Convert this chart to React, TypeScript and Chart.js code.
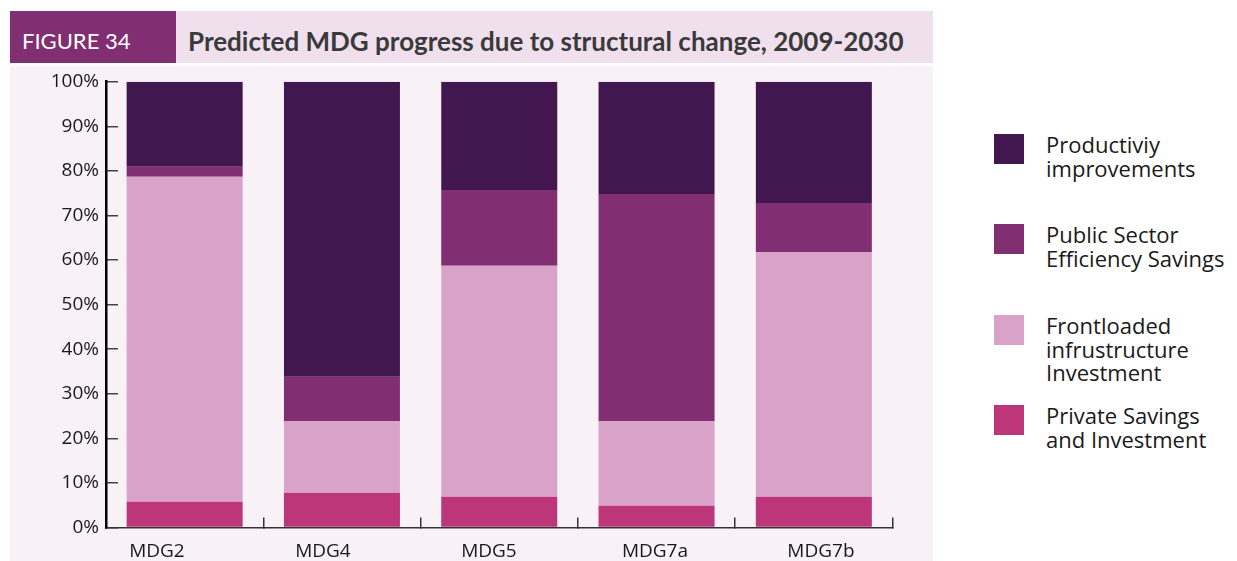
import React, { useEffect, useRef } from "react";
import { Chart, registerables } from "chart.js";

Chart.register(...registerables);

// ---- data ----
const categories = ["MDG2", "MDG4", "MDG5", "MDG7a", "MDG7b"];
const privateSavings = [5.8, 7.8, 6.9, 4.9, 6.9];
const frontloaded = [72.9, 16.1, 51.8, 19.0, 54.9];
const publicSector = [2.2, 9.9, 17.0, 50.9, 11.0];
const productivity = [19.1, 66.2, 24.3, 25.2, 27.2];
const yTickValues = [0, 10, 20, 30, 40, 50, 60, 70, 80, 90, 100];

const productivityLabel = ["Productiviy", "improvements"];
const publicLabel = ["Public Sector", "Efficiency Savings"];
const frontloadedLabel = ["Frontloaded", "infrustructure", "Investment"];
const privateLabel = ["Private Savings", "and Investment"];

const figureLabel = "FIGURE 34";
const titleText = "Predicted MDG progress due to structural change, 2009-2030";

// ---- styles ----
const COLORS = {
  productivity: "#42164f",
  publicSector: "#812f72",
  frontloaded: "#d9a2c8",
  privateSavings: "#bd3679",
};
const AXIS_FONT = "'Open Sans', sans-serif";
const X_LABEL_MIN = -0.307;
const X_LABEL_MAX = 4.431;

const legendItems = [
  { lines: productivityLabel, color: COLORS.productivity },
  { lines: publicLabel, color: COLORS.publicSector },
  { lines: frontloadedLabel, color: COLORS.frontloaded },
  { lines: privateLabel, color: COLORS.privateSavings },
];

export default function App() {
  const canvasRef = useRef<HTMLCanvasElement | null>(null);

  useEffect(() => {
    if (!canvasRef.current) return;
    const chart = new Chart(canvasRef.current, {
      type: "bar",
      data: {
        labels: categories,
        datasets: [
          { label: privateLabel.join(" "), data: privateSavings, backgroundColor: COLORS.privateSavings },
          { label: frontloadedLabel.join(" "), data: frontloaded, backgroundColor: COLORS.frontloaded },
          { label: publicLabel.join(" "), data: publicSector, backgroundColor: COLORS.publicSector },
          { label: productivityLabel.join(" "), data: productivity, backgroundColor: COLORS.productivity },
        ].map((d) => ({ ...d, borderWidth: 0, categoryPercentage: 1, barPercentage: 0.7375 })),
      },
      options: {
        responsive: false,
        animation: false,
        layout: { padding: { top: 15.7, right: 40.5, left: 0, bottom: 0 } },
        plugins: { legend: { display: false }, tooltip: { enabled: false } },
        scales: {
          x: {
            type: "category",
            stacked: true,
            offset: true,
            position: "bottom",
            weight: 0,
            grid: {
              display: true,
              drawOnChartArea: false,
              offset: true,
              tickLength: -10,
              color: "#333",
              lineWidth: 1.5,
            },
            border: { display: true, color: "#333", width: 1.5 },
            ticks: { display: false },
            afterFit: (s: any) => {
              s.height = 0;
              s.paddingLeft = 0;
              s.paddingRight = 0;
            },
          },
          x2: {
            type: "linear",
            position: "bottom",
            weight: 1,
            offset: false,
            bounds: "data",
            min: X_LABEL_MIN,
            max: X_LABEL_MAX,
            grid: { display: false, drawTicks: false, offset: false },
            border: { display: false },
            ticks: {
              autoSkip: false,
              maxRotation: 0,
              padding: 13,
              color: "#1a1a1a",
              font: { family: AXIS_FONT, size: 19 },
              callback: (v: any) => categories[v] ?? "",
            },
            afterBuildTicks: (s: any) => {
              s.min = X_LABEL_MIN;
              s.max = X_LABEL_MAX;
              s.ticks = categories.map((_, i) => ({ value: i }));
            },
            afterFit: (s: any) => {
              s.height = 33.5;
              s.paddingLeft = 0;
              s.paddingRight = 0;
            },
          },
          y: {
            stacked: true,
            min: 0,
            max: 100,
            position: "left",
            afterFit: (s: any) => {
              s.width = 96;
              s.paddingTop = 0;
              s.paddingBottom = 0;
            },
            afterBuildTicks: (s: any) => {
              s.ticks = yTickValues.map((v) => ({ value: v }));
            },
            grid: {
              drawOnChartArea: false,
              tickLength: -12,
              color: "#444",
              lineWidth: 1.5,
            },
            border: { display: true, color: "#000", width: 2.5 },
            ticks: {
              padding: 19,
              color: "#1a1a1a",
              font: { family: AXIS_FONT, size: 19 },
              callback: (v: any) => v + "%",
            },
          },
        },
      } as any,
    });
    return () => chart.destroy();
  }, []);

  return (
    <div
      style={{
        position: "absolute",
        left: 0,
        top: 0,
        width: 1237,
        height: 561,
        background: "#ffffff",
        overflow: "hidden",
      }}
    >
      {/* header band */}
      <div
        style={{
          position: "absolute",
          left: 10,
          top: 11,
          width: 923,
          height: 52,
          background: "#f0e0ee",
        }}
      />
      <div
        style={{
          position: "absolute",
          left: 10,
          top: 11,
          width: 166,
          height: 52,
          background: COLORS.publicSector,
        }}
      />
      <div
        style={{
          position: "absolute",
          left: 22,
          top: 15,
          height: 52,
          lineHeight: "52px",
          color: "#ffffff",
          fontFamily: "Lato, sans-serif",
          fontSize: 22,
          whiteSpace: "nowrap",
        }}
      >
        {figureLabel}
      </div>
      <div
        style={{
          position: "absolute",
          left: 188,
          top: 15,
          height: 52,
          lineHeight: "52px",
          fontFamily: "Lato, sans-serif",
          fontWeight: 700,
          fontSize: 26,
          color: "#3a3a3a",
          whiteSpace: "nowrap",
        }}
      >
        {titleText}
      </div>
      {/* plot background + chart */}
      <div
        style={{
          position: "absolute",
          left: 10,
          top: 66,
          width: 923,
          height: 495,
          background: "#f8f1f6",
        }}
      >
        <canvas ref={canvasRef} width={923} height={495} style={{ display: "block" }} />
      </div>
      {/* legend */}
      {legendItems.map((item, i) => (
        <div
          key={i}
          style={{
            position: "absolute",
            left: 994,
            top: [134, 224, 315, 405][i],
            display: "flex",
            alignItems: "flex-start",
          }}
        >
          <div style={{ width: 30, height: 30, background: item.color, flex: "none" }} />
          <div
            style={{
              marginLeft: 22,
              marginTop: -1,
              fontFamily: AXIS_FONT,
              fontSize: 22,
              lineHeight: "23.5px",
              color: "#1a1a1a",
              whiteSpace: "nowrap",
            }}
          >
            {item.lines.map((l, j) => (
              <div key={j}>{l}</div>
            ))}
          </div>
        </div>
      ))}
    </div>
  );
}
